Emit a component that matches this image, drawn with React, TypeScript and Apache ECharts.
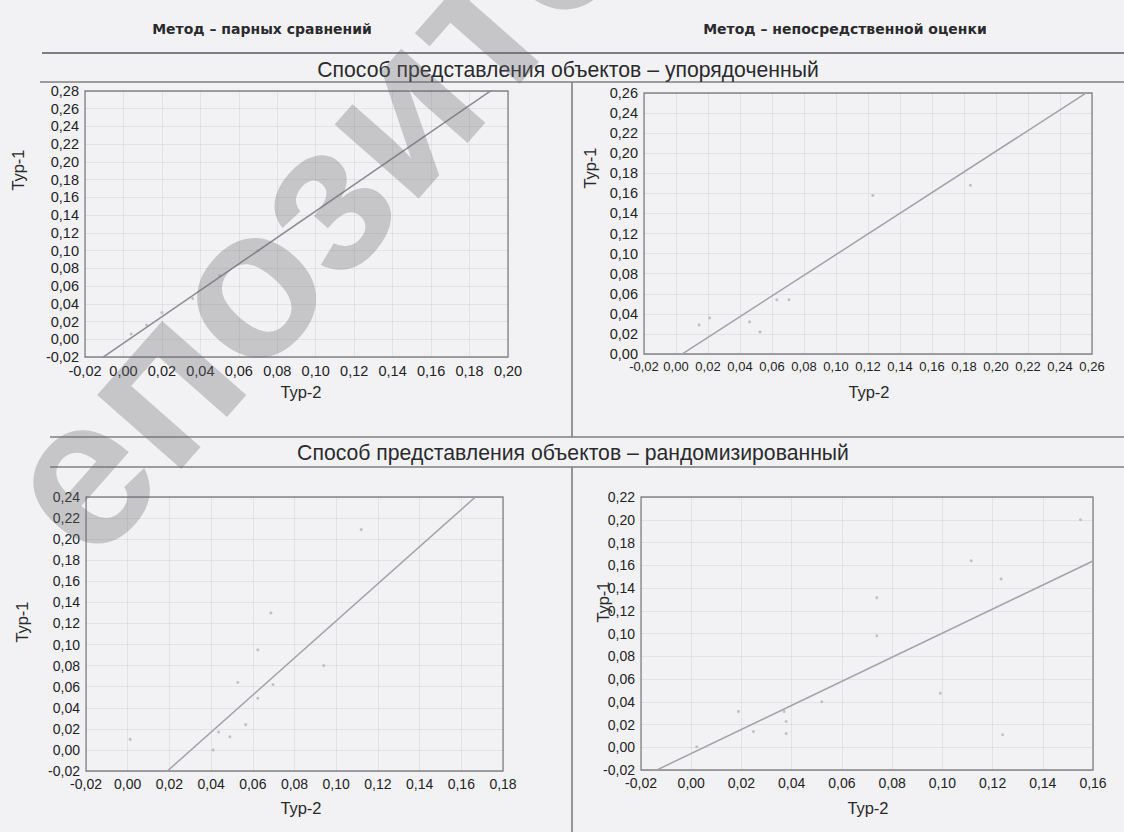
import React, { useEffect, useRef } from "react";
import * as echarts from "echarts";

// Column and row headings
const methodTitles = ["Метод – парных сравнений", "Метод – непосредственной оценки"];
const modeTitles = [
  "Способ представления объектов – упорядоченный",
  "Способ представления объектов – рандомизированный",
];
const xAxisTitle = "Тур-2";
const yAxisTitle = "Тур-1";
const watermarkText = "епозиторий";

// Object weights: [Тур-2, Тур-1]
const pairedOrdered: number[][] = [
  [0.004, 0.006], [0.012, 0.016], [0.02, 0.03], [0.036, 0.046], [0.05, 0.072], [0.07, 0.1],
];
const directOrdered: number[][] = [
  [0.0144, 0.029], [0.021, 0.036], [0.046, 0.032], [0.0525, 0.022],
  [0.063, 0.054], [0.0706, 0.054], [0.123, 0.158], [0.184, 0.168],
];
const pairedRandom: number[][] = [
  [0.0012, 0.01], [0.041, 0.0], [0.0436, 0.017], [0.049, 0.0125], [0.0528, 0.064],
  [0.0566, 0.024], [0.0624, 0.095], [0.0624, 0.049], [0.0697, 0.062], [0.0687, 0.13],
  [0.094, 0.08], [0.112, 0.209],
];
const directRandom: number[][] = [
  [0.0022, 0.0005], [0.0188, 0.0315], [0.0248, 0.0138], [0.037, 0.0315], [0.0378, 0.0227],
  [0.0378, 0.012], [0.052, 0.04], [0.0739, 0.1315], [0.0739, 0.098], [0.0992, 0.0475],
  [0.1115, 0.164], [0.1234, 0.148], [0.124, 0.011], [0.155, 0.2],
];
const panelPoints = [pairedOrdered, directOrdered, pairedRandom, directRandom];

// Axis extents per panel
const xMins = [-0.02, -0.02, -0.02, -0.02];
const xMaxs = [0.2, 0.26, 0.18, 0.16];
const yMins = [-0.02, 0, -0.02, -0.02];
const yMaxs = [0.28, 0.26, 0.24, 0.22];

// Linear fit Тур-1 = a + b · Тур-2
const fitIntercepts = [-0.0044, -0.004, -0.0535, -0.0055];
const fitSlopes = [1.49, 1.03, 1.76, 1.058];

// Plot rectangles [left, top, width, height]
const gridBoxes = [
  [85, 91, 423, 266],
  [644, 93, 448, 261],
  [86, 497, 417, 274],
  [641, 497, 452, 273],
];
// tick label sizes [x, y]
const tickFontSizes = [
  [14.5, 14.5],
  [13, 14.5],
  [14, 14],
  [14, 14],
];
const yTitlePos = [
  [18, 170],
  [590, 168],
  [22, 622],
  [603, 602],
];
const xTitlePos = [
  [301, 392],
  [869, 392],
  [301, 808],
  [868, 808],
];

const FONT = '"Liberation Sans", Arial, sans-serif';
const fmt = (v: number) => (Math.abs(v) < 1e-9 ? 0 : v).toFixed(2).replace(".", ",");

export default function App() {
  const ref = useRef<HTMLDivElement>(null);

  useEffect(() => {
    if (!ref.current) return;
    const chart = echarts.init(ref.current, undefined, { renderer: "svg" });

    const grids = gridBoxes.map(([left, top, width, height]) => ({
      left,
      top,
      width,
      height,
      show: true,
      borderColor: "#85858a",
      borderWidth: 1.3,
      backgroundColor: "transparent",
    }));

    const splitLine = { show: true, lineStyle: { color: "rgba(0,0,0,0.06)", width: 1 } };
    const labelBase = { color: "#232327", fontFamily: FONT, formatter: fmt };

    const xAxes = gridBoxes.map((_, i) => ({
      type: "value",
      gridIndex: i,
      min: xMins[i],
      max: xMaxs[i],
      interval: 0.02,
      axisLine: { show: false },
      axisTick: { show: false },
      axisLabel: { ...labelBase, fontSize: tickFontSizes[i][0], margin: 6 },
      splitLine,
    }));

    const yAxes = gridBoxes.map((_, i) => ({
      type: "value",
      gridIndex: i,
      min: yMins[i],
      max: yMaxs[i],
      interval: 0.02,
      axisLine: { show: false },
      axisTick: { show: false },
      axisLabel: { ...labelBase, fontSize: tickFontSizes[i][1], margin: 6 },
      splitLine,
    }));

    const series: any[] = [];
    panelPoints.forEach((pts, i) => {
      series.push({
        type: "scatter",
        xAxisIndex: i,
        yAxisIndex: i,
        data: pts,
        symbol: "circle",
        symbolSize: 3,
        itemStyle: { color: "#b4b4ba" },
        silent: true,
      });
      const a = fitIntercepts[i];
      const b = fitSlopes[i];
      series.push({
        type: "line",
        xAxisIndex: i,
        yAxisIndex: i,
        data: [
          [xMins[i], a + b * xMins[i]],
          [xMaxs[i], a + b * xMaxs[i]],
        ],
        showSymbol: false,
        clip: true,
        lineStyle: { color: i === 0 ? "#8c8c94" : "#a2a2aa", width: 1.5 },
        silent: true,
      });
    });

    const ruleStyle = { stroke: "#7e7e84", lineWidth: 1.6 };
    const textStyle = (text: string, size: number, weight: string, align: string) => ({
      text,
      fontFamily: FONT,
      fontSize: size,
      fontWeight: weight,
      fill: "#2a2a2e",
      align,
      verticalAlign: "middle",
    });

    const graphic: any[] = [
      // column headings
      { type: "text", x: 262, y: 29, style: { ...textStyle(methodTitles[0], 14, "bold", "center"), fontFamily: '"DejaVu Sans", sans-serif' } },
      { type: "text", x: 845, y: 29, style: { ...textStyle(methodTitles[1], 14, "bold", "center"), fontFamily: '"DejaVu Sans", sans-serif' } },
      // rules
      { type: "line", shape: { x1: 42, y1: 53, x2: 1124, y2: 53 }, style: { ...ruleStyle, lineWidth: 2 } },
      { type: "line", shape: { x1: 40, y1: 82, x2: 1124, y2: 82 }, style: ruleStyle },
      { type: "line", shape: { x1: 572, y1: 82, x2: 572, y2: 437 }, style: ruleStyle },
      { type: "line", shape: { x1: 50, y1: 437, x2: 1124, y2: 437 }, style: ruleStyle },
      { type: "line", shape: { x1: 50, y1: 467, x2: 1124, y2: 467 }, style: ruleStyle },
      { type: "line", shape: { x1: 572, y1: 467, x2: 572, y2: 832 }, style: ruleStyle },
      // row headings
      { type: "text", x: 568, y: 69, style: textStyle(modeTitles[0], 21.2, "normal", "center") },
      { type: "text", x: 573, y: 452, style: textStyle(modeTitles[1], 21.2, "normal", "center") },
    ];

    yTitlePos.forEach(([x, y]) => {
      graphic.push({
        type: "text",
        x,
        y,
        rotation: Math.PI / 2,
        style: textStyle(yAxisTitle, 16.5, "normal", "center"),
      });
    });
    xTitlePos.forEach(([x, y]) => {
      graphic.push({
        type: "text",
        x,
        y,
        style: textStyle(xAxisTitle, 16.5, "normal", "center"),
      });
    });

    // repository stamp across the page
    graphic.push({
      type: "text",
      x: 118,
      y: 590,
      rotation: 0.85,
      z: 100,
      silent: true,
      style: {
        text: watermarkText,
        fontFamily: FONT,
        fontSize: 212,
        fontWeight: "bold",
        fill: "rgba(105,105,112,0.32)",
        align: "left",
        verticalAlign: "bottom",
      },
    });

    chart.setOption({
      animation: false,
      backgroundColor: "#f2f2f4",
      grid: grids,
      xAxis: xAxes,
      yAxis: yAxes,
      series,
      graphic,
    });

    return () => chart.dispose();
  }, []);

  return (
    <div
      ref={ref}
      style={{ position: "fixed", left: 0, top: 0, width: 1124, height: 832 }}
    />
  );
}
